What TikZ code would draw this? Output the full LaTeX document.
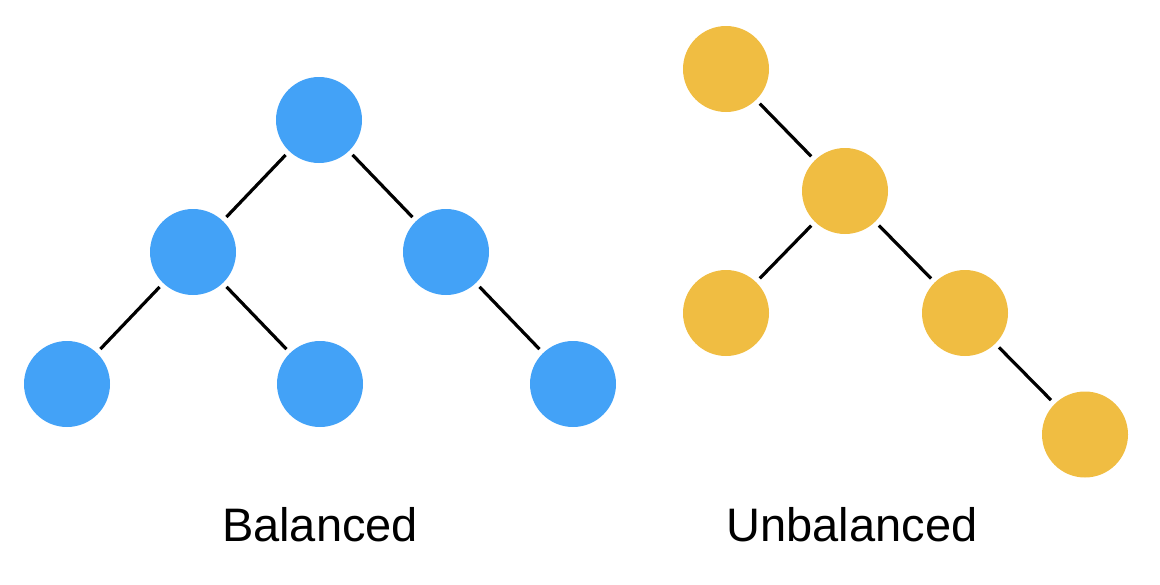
\documentclass[tikz,border=0pt]{standalone}
\usepackage{fontspec}
\setmainfont{Liberation Sans}
\definecolor{treeblue}{RGB}{67,162,247}
\definecolor{treegold}{RGB}{240,189,66}

\begin{document}
\begin{tikzpicture}[x=0.5pt,y=-0.5pt,
    bnode/.style={circle,fill=treeblue,minimum size=43pt,inner sep=0pt},
    unode/.style={circle,fill=treegold,minimum size=43pt,inner sep=0pt},
    edge/.style={line width=1.6pt,shorten >=2.5pt,shorten <=2.5pt},
    caption/.style={anchor=base,font=\fontsize{23.5}{28}\selectfont}]
%\draw [help lines,step=50] (0,0) grid (1160,584);
\useasboundingbox (0,0) rectangle (1160,584);
% balanced
\node [bnode] (b0) at (319,120) {};
\node [bnode] (b1) at (193,252) {};
\node [bnode] (b2) at (446,252) {};
\node [bnode] (b3) at (67,384) {};
\node [bnode] (b4) at (320,384) {};
\node [bnode] (b5) at (573,384) {};
\draw [edge] (b0)--(b1);
\draw [edge] (b0)--(b2);
\draw [edge] (b1)--(b3);
\draw [edge] (b1)--(b4);
\draw [edge] (b2)--(b5);
\node [caption] (bal) at (320,541.7) {Balanced};
% unbalanced
\node [unode] (u0) at (726,69) {};
\node [unode] (u1) at (845,191) {};
\node [unode] (u2) at (726,313) {};
\node [unode] (u3) at (965,313) {};
\node [unode] (u4) at (1085,434.5) {};
\draw [edge] (u0)--(u1);
\draw [edge] (u1)--(u2);
\draw [edge] (u1)--(u3);
\draw [edge] (u3)--(u4);
\node [caption] (unbal) at (852,541.7) {Unbalanced};
\end{tikzpicture}
\end{document}
